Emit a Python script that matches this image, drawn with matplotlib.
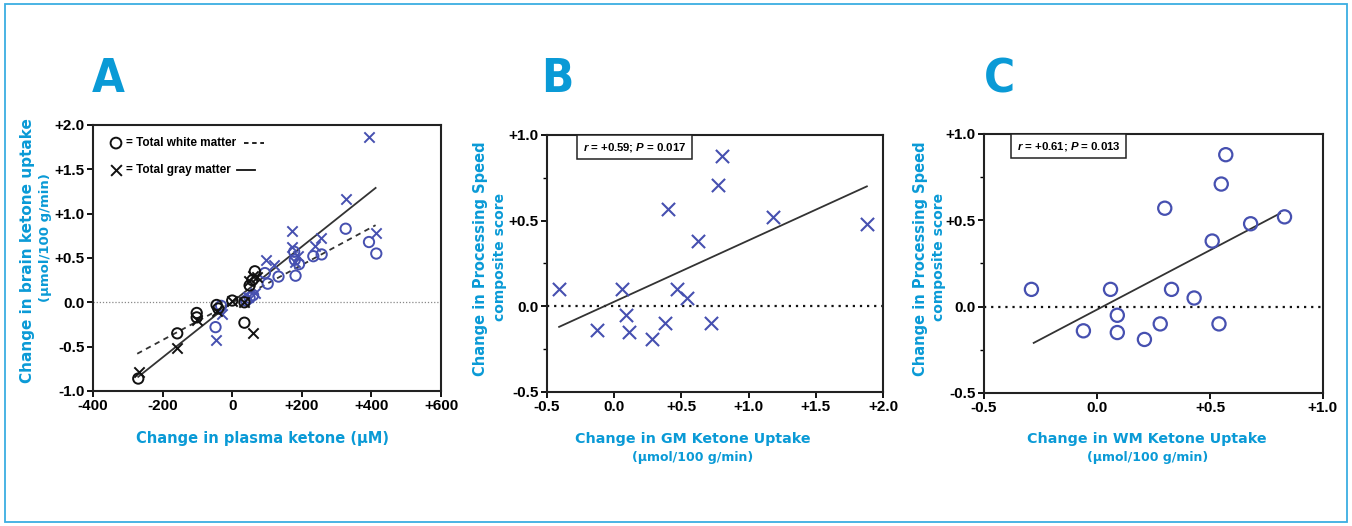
import os
import matplotlib
matplotlib.use("Agg")
import matplotlib.pyplot as plt
from matplotlib.patches import Rectangle
from matplotlib.ticker import MultipleLocator
from matplotlib import font_manager
from matplotlib.font_manager import FontProperties

# ---------------- data ----------------
# Panel A: change in plasma ketone (uM) vs change in brain ketone uptake
wm_black_x = [-270, -158, -102, -102, -45, -40, 0, 35, 35, 65, 58, 50]
wm_black_y = [-0.86, -0.35, -0.12, -0.17, -0.03, -0.07, 0.02, -0.23, 0.00, 0.35, 0.25, 0.19]
wm_blue_x = [326, 393, 414, 257, 233, 180, 192, 182, 133, 102, 94, 178, -48, -32, 50, 60, 40]
wm_blue_y = [0.83, 0.68, 0.55, 0.54, 0.52, 0.48, 0.43, 0.30, 0.29, 0.21, 0.33, 0.57, -0.28, -0.04, 0.05, 0.08, 0.02]
gm_black_x = [-268, -160, -102, -45, 0, 35, 60, 60, 48, 70]
gm_black_y = [-0.79, -0.52, -0.20, -0.10, 0.02, 0.00, -0.35, 0.30, 0.24, 0.28]
gm_blue_x = [394, 326, 412, 173, 173, 254, 238, 96, 190, 120, -48, -28, 45, 65, 180]
gm_blue_y = [1.87, 1.17, 0.78, 0.80, 0.62, 0.73, 0.63, 0.48, 0.52, 0.42, -0.42, -0.13, 0.06, 0.10, 0.45]
wm_fit_x = [-273, 412]
wm_fit_y = [-0.58, 0.87]
gm_fit_x = [-270, 412]
gm_fit_y = [-0.84, 1.29]

# Panel B: GM ketone uptake vs processing speed
gm_uptake = [-0.41, 0.06, 0.40, 0.80, 0.77, 0.62, 1.18, 1.88, 0.47, 0.54,
             -0.13, 0.09, 0.11, 0.28, 0.38, 0.72]
speed_b = [0.10, 0.10, 0.57, 0.88, 0.71, 0.38, 0.52, 0.48, 0.10, 0.05,
           -0.14, -0.05, -0.15, -0.19, -0.10, -0.10]
b_fit_x = [-0.41, 1.88]
b_fit_y = [-0.12, 0.70]

# Panel C: WM ketone uptake vs processing speed
wm_uptake = [-0.29, 0.06, 0.30, 0.57, 0.55, 0.51, 0.68, 0.83, 0.33, 0.43,
             -0.06, 0.09, 0.09, 0.21, 0.28, 0.54]
speed_c = [0.10, 0.10, 0.57, 0.88, 0.71, 0.38, 0.48, 0.52, 0.10, 0.05,
           -0.14, -0.05, -0.15, -0.19, -0.10, -0.10]
c_fit_x = [-0.28, 0.81]
c_fit_y = [-0.21, 0.54]

a_xticks = [-400, -200, 0, 200, 400, 600]
a_xticklabels = ["-400", "-200", "0", "+200", "+400", "+600"]
a_yticks = [-1.0, -0.5, 0.0, 0.5, 1.0, 1.5, 2.0]
a_yticklabels = ["-1.0", "-0.5", "0.0", "+0.5", "+1.0", "+1.5", "+2.0"]
b_xticks = [-0.5, 0.0, 0.5, 1.0, 1.5, 2.0]
b_xticklabels = ["-0.5", "0.0", "+0.5", "+1.0", "+1.5", "+2.0"]
c_xticks = [-0.5, 0.0, 0.5, 1.0]
c_xticklabels = ["-0.5", "0.0", "+0.5", "+1.0"]
bc_yticks = [-0.5, 0.0, 0.5, 1.0]
bc_yticklabels = ["-0.5", "0.0", "+0.5", "+1.0"]

# ---------------- style ----------------
BLUE_PT = "#4650b0"
LABEL_BLUE = "#0a9ad6"
FONT = "DejaVu Sans"
NARROW = "Liberation Sans"

# look for a condensed bold face for the panel letters
cond_file = None
for f in font_manager.fontManager.ttflist:
    fn = os.path.basename(f.fname).lower()
    if ("condensed" in fn or "narrow" in fn) and "bold" in fn and "italic" not in fn \
            and "oblique" not in fn:
        cond_file = f.fname
        break
letter_prop = (FontProperties(fname=cond_file, size=34) if cond_file
               else FontProperties(family=NARROW, weight="bold", size=34))

plt.rcParams.update({"mathtext.fontset": "custom",
                     "mathtext.bfit": NARROW + ":bold:italic",
                     "mathtext.bf": NARROW + ":bold",
                     "mathtext.rm": NARROW})

fig = plt.figure(figsize=(13.52, 5.26), dpi=100)
fig.patch.set_facecolor("white")
fig.patches.append(Rectangle((0.004, 0.008), 0.992, 0.984, transform=fig.transFigure,
                             fill=False, edgecolor="#3aaee2", linewidth=1.3))

axA = fig.add_axes([0.0688, 0.2567, 0.2574, 0.5057])
axB = fig.add_axes([0.4046, 0.2548, 0.2485, 0.4886])
axC = fig.add_axes([0.7278, 0.2529, 0.2507, 0.4924])


def style_axes(ax):
    for s in ax.spines.values():
        s.set_linewidth(1.5)
        s.set_color("#222222")
    ax.tick_params(which="major", direction="out", length=4, width=1.3,
                   labelsize=11, pad=2)
    ax.tick_params(which="minor", direction="out", length=3, width=1.0)
    for lab in ax.get_xticklabels() + ax.get_yticklabels():
        lab.set_fontweight("bold")
        lab.set_fontfamily(NARROW)


# ---- Panel A ----
axA.set_xlim(-400, 600)
axA.set_ylim(-1.0, 2.0)
axA.axhline(0, color="#888888", lw=0.9, ls=(0, (1, 1.5)), zorder=1)
axA.plot(wm_fit_x, wm_fit_y, color="#333333", lw=1.3, ls=(0, (3, 2.5)), zorder=2)
axA.plot(gm_fit_x, gm_fit_y, color="#333333", lw=1.3, zorder=2)
axA.scatter(wm_blue_x, wm_blue_y, s=55, facecolors="none", edgecolors=BLUE_PT, linewidths=1.4, zorder=3)
axA.scatter(gm_blue_x, gm_blue_y, s=55, marker="x", color=BLUE_PT, linewidths=1.4, zorder=3)
axA.scatter(wm_black_x, wm_black_y, s=55, facecolors="none", edgecolors="#111111", linewidths=1.4, zorder=4)
axA.scatter(gm_black_x, gm_black_y, s=55, marker="x", color="#111111", linewidths=1.4, zorder=4)
axA.set_xticks(a_xticks)
axA.set_xticklabels(a_xticklabels)
axA.set_yticks(a_yticks)
axA.set_yticklabels(a_yticklabels)
style_axes(axA)

# legend (drawn manually to mimic the layout)
axA.scatter([0.066], [0.932], s=60, facecolors="none", edgecolors="#111111",
            linewidths=1.4, transform=axA.transAxes, clip_on=False)
axA.text(0.095, 0.932, "= Total white matter", transform=axA.transAxes, fontsize=8.5,
         fontweight="bold", family=NARROW, va="center", ha="left")
axA.plot([0.435, 0.49], [0.932, 0.932], transform=axA.transAxes, color="#111111",
         lw=1.3, ls=(0, (2.5, 2)))
axA.scatter([0.066], [0.83], s=60, marker="x", color="#111111",
            linewidths=1.4, transform=axA.transAxes, clip_on=False)
axA.text(0.095, 0.83, "= Total gray matter", transform=axA.transAxes, fontsize=8.5,
         fontweight="bold", family=NARROW, va="center", ha="left")
axA.plot([0.415, 0.465], [0.83, 0.83], transform=axA.transAxes, color="#111111", lw=1.3)

# ---- Panel B ----
axB.set_xlim(-0.5, 2.0)
axB.set_ylim(-0.5, 1.0)
axB.axhline(0, color="#111111", lw=1.6, ls=(0, (1, 2.2)), zorder=1)
axB.plot(b_fit_x, b_fit_y, color="#333333", lw=1.3, zorder=2)
axB.scatter(gm_uptake, speed_b, s=90, marker="x", color=BLUE_PT, linewidths=1.5, zorder=3)
axB.set_xticks(b_xticks)
axB.set_xticklabels(b_xticklabels)
axB.set_yticks(bc_yticks)
axB.set_yticklabels(bc_yticklabels)
axB.yaxis.set_minor_locator(MultipleLocator(0.25))
style_axes(axB)
axB.text(0.107, 0.953, r"$\bfit{r}$ = +0.59; $\bfit{P}$ = 0.017", transform=axB.transAxes,
         fontsize=8.2, fontweight="bold", family=NARROW, va="center", ha="left",
         bbox=dict(boxstyle="square,pad=0.5", facecolor="white", edgecolor="#222222", lw=1.1))

# ---- Panel C ----
axC.set_xlim(-0.5, 1.0)
axC.set_ylim(-0.5, 1.0)
axC.axhline(0, color="#111111", lw=1.6, ls=(0, (1, 2.2)), zorder=1)
axC.plot(c_fit_x, c_fit_y, color="#333333", lw=1.3, zorder=2)
axC.scatter(wm_uptake, speed_c, s=90, facecolors="none", edgecolors=BLUE_PT, linewidths=1.6, zorder=3)
axC.set_xticks(c_xticks)
axC.set_xticklabels(c_xticklabels)
axC.set_yticks(bc_yticks)
axC.set_yticklabels(bc_yticklabels)
axC.yaxis.set_minor_locator(MultipleLocator(0.25))
style_axes(axC)
axC.text(0.097, 0.953, r"$\bfit{r}$ = +0.61; $\bfit{P}$ = 0.013", transform=axC.transAxes,
         fontsize=8.2, fontweight="bold", family=NARROW, va="center", ha="left",
         bbox=dict(boxstyle="square,pad=0.5", facecolor="white", edgecolor="#222222", lw=1.1))

# ---- labels ----
def ftext(x_px, y_px, s, size, rot=0, color=LABEL_BLUE, family=FONT, **kw):
    fig.text(x_px / 1352, 1 - y_px / 526, s, fontsize=size, rotation=rot, color=color,
             fontweight="bold", family=family, ha="center", va="center", **kw)

for letter, x in (("A", 108), ("B", 557), ("C", 1000)):
    fig.text(x / 1352, 1 - 80 / 526, letter, fontproperties=letter_prop, color="#0a9ad6",
             ha="center", va="center")

ftext(263, 438, "Change in plasma ketone (\u00b5M)", 10.5)
ftext(28, 251, "Change in brain ketone uptake", 11, rot=90)
ftext(46, 238, "(\u00b5mol/100 g/min)", 9.5, rot=90)

ftext(481, 259, "Change in Processing Speed", 10.5, rot=90)
ftext(500, 257, "composite score", 10, rot=90)
ftext(693, 439, "Change in GM Ketone Uptake", 10.3)
ftext(693, 457, "(\u00b5mol/100 g/min)", 9)

ftext(920, 259, "Change in Processing Speed", 10.5, rot=90)
ftext(939, 257, "composite score", 10, rot=90)
ftext(1147, 439, "Change in WM Ketone Uptake", 10.3)
ftext(1148, 457, "(\u00b5mol/100 g/min)", 9)

fig.savefig("out.png", dpi=100, facecolor="white")
